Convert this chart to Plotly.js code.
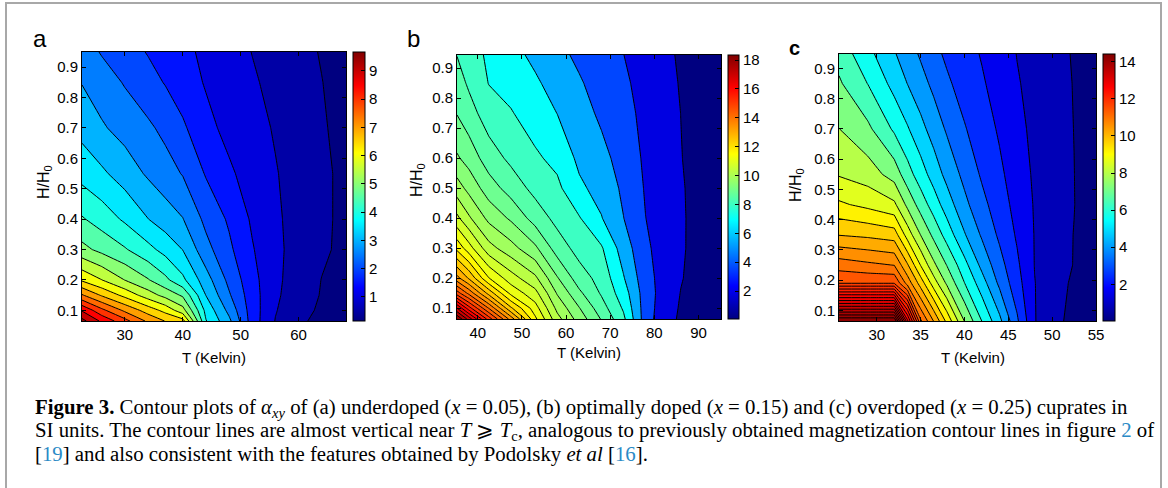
<!DOCTYPE html>
<html><head><meta charset="utf-8">
<script src="https://cdn.plot.ly/plotly-3.0.1.min.js"></script>
<style>html,body{margin:0;padding:0;background:#fff;}#chart{width:1168px;height:488px;}</style>
</head><body><div id="chart"></div>
<script>
// ---------- Panel a : underdoped (x = 0.05) ----------
const T_a = [22.6, 26, 30, 34, 37, 40, 44, 48, 52, 56, 60, 64, 68.2];
const H_a = [0.065, 0.1, 0.15, 0.2, 0.3, 0.4, 0.55, 0.7, 0.85, 0.95];
const Z_a = [
 [9.67, 8.9, 8.17, 7.4, 6.98, 6.7, 4.03, 3.12, 1.76, 0.98, 0.58, 0.38, 0.14],
 [8.95, 8.14, 7.4, 6.78, 6.34, 5.7, 3.86, 2.86, 1.75, 1.03, 0.67, 0.42, 0.25],
 [7.55, 6.94, 6.35, 5.74, 5.33, 4.92, 3.49, 2.56, 1.72, 1.08, 0.74, 0.47, 0.28],
 [6.42, 6.01, 5.49, 5.04, 4.62, 4.11, 3.22, 2.37, 1.67, 1.1, 0.78, 0.49, 0.3],
 [5.15, 4.86, 4.55, 4.15, 3.83, 3.49, 2.67, 2.1, 1.54, 1.11, 0.82, 0.58, 0.38],
 [4.55, 4.28, 3.92, 3.51, 3.25, 3.02, 2.37, 1.93, 1.43, 1.08, 0.82, 0.6, 0.38],
 [3.82, 3.59, 3.27, 2.93, 2.71, 2.47, 1.96, 1.58, 1.29, 1.03, 0.81, 0.6, 0.38],
 [3.34, 3.06, 2.82, 2.59, 2.37, 2.08, 1.64, 1.36, 1.16, 0.96, 0.76, 0.55, 0.35],
 [2.98, 2.75, 2.46, 2.18, 1.97, 1.74, 1.46, 1.26, 1.06, 0.87, 0.69, 0.51, 0.32],
 [2.75, 2.46, 2.21, 1.97, 1.80, 1.62, 1.40, 1.20, 0.99, 0.82, 0.64, 0.47, 0.30]
];
const levels_a = [0.5, 1, 1.5, 2, 2.5, 3, 3.5, 4, 4.5, 5, 5.5, 6, 6.5, 7, 7.5, 8, 8.5, 9, 9.5];
const xticks_a = [30, 40, 50, 60];
const cbticks_a = [1, 2, 3, 4, 5, 6, 7, 8, 9];

// ---------- Panel b : optimally doped (x = 0.15) ----------
const T_b = [35.3, 38, 42.5, 47.5, 53, 58, 63, 68, 73, 78, 82, 86, 90, 95.1];
const H_b = [0.064, 0.1, 0.15, 0.2, 0.3, 0.4, 0.5, 0.6, 0.75, 0.85, 0.944];
const Z_b = [
 [18.35, 17.26, 15.45, 13.66, 11.7, 10.41, 9.6, 8.87, 8.1, 4.46, 2.6, 1.53, 0.88, 0.06],
 [17.02, 15.85, 14.28, 12.58, 11.35, 10.13, 9.37, 8.65, 7.88, 4.5, 2.75, 1.62, 0.97, 0.15],
 [14.97, 14.17, 12.79, 11.48, 10.85, 9.76, 8.99, 8.4, 7.48, 4.5, 2.91, 1.75, 1.09, 0.25],
 [13.56, 12.89, 11.62, 10.91, 10.35, 9.39, 8.66, 8.29, 7.08, 4.28, 2.95, 1.9, 1.2, 0.35],
 [11.92, 11.34, 10.42, 9.97, 9.44, 8.69, 8.28, 8.05, 6.26, 3.93, 2.89, 2.0, 1.29, 0.45],
 [10.81, 10.32, 9.68, 9.28, 8.71, 8.31, 8.03, 7.05, 5.43, 3.62, 2.8, 2.0, 1.31, 0.5],
 [10.01, 9.66, 9.12, 8.71, 8.31, 8.10, 7.19, 6.43, 5.08, 3.45, 2.7, 1.95, 1.32, 0.55],
 [9.41, 9.17, 8.67, 8.35, 8.07, 7.73, 6.65, 5.84, 4.75, 3.29, 2.57, 1.85, 1.3, 0.6],
 [8.88, 8.63, 8.22, 8.03, 7.54, 6.98, 6.0, 5.1, 4.25, 3.08, 2.43, 1.79, 1.25, 0.6],
 [8.65, 8.38, 7.97, 7.67, 7.15, 6.38, 5.56, 4.7, 3.91, 2.96, 2.31, 1.7, 1.22, 0.6],
 [8.44, 8.23, 7.81, 7.32, 6.64, 5.82, 5.05, 4.33, 3.62, 2.8, 2.17, 1.61, 1.17, 0.6]
];
const levels_b = [1.8, 3.6, 5.4, 7.0, 8.0, 8.45, 8.9, 9.35, 9.8, 10.25, 10.7, 11.15, 11.6, 12.05,
                  12.5, 12.95, 13.4, 13.85, 14.3, 14.75, 15.2, 15.65, 16.1, 16.55, 17.0, 17.45, 17.9];
const xticks_b = [40, 50, 60, 70, 80, 90];
const cbticks_b = [2, 4, 6, 8, 10, 12, 14, 16, 18];

// ---------- Panel c : overdoped (x = 0.25) ----------
const T_c = [25.7, 29, 32, 33.5, 35, 36.5, 38, 40, 42, 44, 46, 48, 50, 52.5, 55];
const H_c = [0.065, 0.19, 0.25, 0.35, 0.45, 0.55, 0.7, 0.85, 0.948];
const Z_c = [
 [14.42, 14.42, 14.42, 12.85, 11.47, 10.58, 9.56, 7.98, 6.38, 5.01, 3.33, 1.64, 1.1, 0.53, 0.02],
 [11.79, 11.79, 11.79, 10.85, 9.99, 8.9, 7.87, 6.42, 5.16, 3.83, 2.71, 1.62, 1.19, 0.66, 0.05],
 [11.22, 11.09, 10.99, 10.25, 9.18, 8.13, 7.17, 5.87, 4.57, 3.5, 2.54, 1.58, 1.22, 0.77, 0.1],
 [10.18, 10.09, 9.96, 8.94, 7.99, 6.99, 6.07, 4.87, 3.89, 3.05, 2.3, 1.57, 1.22, 0.78, 0.15],
 [9.28, 9.04, 8.72, 7.81, 6.85, 6.02, 5.2, 4.21, 3.43, 2.77, 2.13, 1.54, 1.22, 0.82, 0.2],
 [8.55, 8.31, 7.66, 6.74, 5.98, 5.25, 4.56, 3.78, 3.09, 2.56, 1.99, 1.49, 1.19, 0.81, 0.25],
 [8.01, 7.37, 6.27, 5.68, 5.05, 4.46, 3.9, 3.26, 2.78, 2.3, 1.8, 1.43, 1.15, 0.79, 0.3],
 [7.31, 6.38, 5.33, 4.79, 4.3, 3.81, 3.33, 2.88, 2.49, 2.08, 1.66, 1.37, 1.1, 0.77, 0.35],
 [6.9, 5.84, 4.87, 4.38, 3.9, 3.42, 3.06, 2.7, 2.34, 1.97, 1.58, 1.33, 1.07, 0.74, 0.4]
];
const levels_c = [0.8, 1.6, 2.4, 3.2, 4.0, 4.8, 5.6, 6.4, 7.2, 8.0, 8.6, 9.2, 9.7, 10.2, 10.6, 11.0,
                  11.4, 11.8, 12.0, 12.2, 12.4, 12.6, 12.8, 13.0, 13.2, 13.4, 13.6, 13.8, 14.0, 14.2];
const xticks_c = [30, 35, 40, 45, 50, 55];
const cbticks_c = [2, 4, 6, 8, 10, 12, 14];

const yticks = [0.1, 0.2, 0.3, 0.4, 0.5, 0.6, 0.7, 0.8, 0.9];

// ---------- helpers ----------
const W = 1168, Hh = 488;
const px = v => v / W;
const py = v => 1 - v / Hh;
function jet(t) {
  t = Math.max(0, Math.min(1, t));
  const c = x => Math.round(255 * Math.max(0, Math.min(1, x)));
  return 'rgb(' + c(1.5 - Math.abs(4 * t - 3)) + ',' + c(1.5 - Math.abs(4 * t - 2)) + ',' + c(1.5 - Math.abs(4 * t - 1)) + ')';
}
const JET = [0, 0.125, 0.375, 0.625, 0.875, 1].map(t => [t, jet(t)]);
// map a value onto the (non-uniform) level index so that the library draws the given levels
function toIndex(z, L) {
  const n = L.length;
  if (z <= L[0]) return 1 - (L[0] - z) / (L[1] - L[0]);
  if (z >= L[n - 1]) return n + (z - L[n - 1]) / (L[n - 1] - L[n - 2]);
  for (let k = 0; k < n - 1; k++) if (z < L[k + 1]) return k + 1 + (z - L[k]) / (L[k + 1] - L[k]);
}
const FONT = 'Liberation Sans, Arial, Helvetica, sans-serif';
const TICK = 15;

function panel(T, H, Z, L, ax, cbBox, cbTicks) {
  const flat = Z.flat();
  const zmin = Math.min(...flat), zmax = Math.max(...flat);
  const n = L.length;
  const cs = [[0, jet(0)]];
  L.forEach((l, k) => cs.push([(k + 1) / n, jet((l - zmin) / (zmax - zmin))]));
  const contour = {
    type: 'contour', x: T, y: H, z: Z.map(r => r.map(v => toIndex(v, L))),
    xaxis: 'x' + ax, yaxis: 'y' + ax, autocontour: false,
    contours: {start: 1, end: n, size: 1, coloring: 'fill', showlines: true},
    colorscale: cs, showscale: false,
    line: {color: '#000', width: 1, smoothing: 0}, hoverinfo: 'skip'
  };
  const bar = {
    type: 'scatter', mode: 'markers', x: [T[0]], y: [H[0]], xaxis: 'x' + ax, yaxis: 'y' + ax,
    hoverinfo: 'skip',
    marker: {size: 1, opacity: 0, color: [zmin, zmax], cmin: zmin, cmax: zmax, colorscale: JET, showscale: true,
      colorbar: {x: px(cbBox[0]), xanchor: 'left', y: py(cbBox[3]), yanchor: 'bottom',
        len: (cbBox[3] - cbBox[1]) / Hh, lenmode: 'fraction', thickness: cbBox[2] - cbBox[0], thicknessmode: 'pixels',
        xpad: 0, ypad: 0, outlinewidth: 1, outlinecolor: '#000', borderwidth: 0,
        ticks: 'inside', ticklen: 4, tickcolor: '#000', tickvals: cbTicks,
        tickfont: {family: FONT, size: TICK, color: '#000'}}}
  };
  return [contour, bar];
}

function axX(dom, range, ticks, anchor) {
  return {domain: [px(dom[0]), px(dom[1])], range: range, anchor: anchor, tickvals: ticks,
    ticks: 'inside', ticklen: 4, tickcolor: '#000', mirror: 'ticks', showline: true, linecolor: '#000', linewidth: 1,
    showgrid: false, zeroline: false, tickfont: {family: FONT, size: TICK, color: '#000'}};
}
function axY(dom, range, anchor) {
  return {domain: [py(dom[1]), py(dom[0])], range: range, anchor: anchor, tickvals: yticks, tickformat: '.1f',
    ticks: 'inside', ticklen: 4, tickcolor: '#000', mirror: 'ticks', showline: true, linecolor: '#000', linewidth: 1,
    showgrid: false, zeroline: false, tickfont: {family: FONT, size: TICK, color: '#000'}};
}

const data = [].concat(
  panel(T_a, H_a, Z_a, levels_a, '', [353, 52, 365, 321], cbticks_a),
  panel(T_b, H_b, Z_b, levels_b, '2', [728, 55, 739, 319], cbticks_b),
  panel(T_c, H_c, Z_c, levels_c, '3', [1103, 54, 1115, 321], cbticks_c)
);

const ann = [];
function txt(text, x, y, size, opts) {
  ann.push(Object.assign({text: text, x: px(x), y: py(y), xref: 'paper', yref: 'paper', showarrow: false,
    xanchor: 'center', yanchor: 'middle', font: {family: FONT, size: size, color: '#000'}}, opts || {}));
}
txt('a', 40, 38.5, 24);
txt('b', 413, 38.5, 24);
txt('<b>c</b>', 794, 48, 20);
txt('T (Kelvin)', 214, 357, 15);
txt('T (Kelvin)', 589, 352, 15);
txt('T (Kelvin)', 973, 357, 15);
txt('H/H<sub>0</sub>', 44, 182, 16, {textangle: -90});
txt('H/H<sub>0</sub>', 417, 180, 16, {textangle: -90});
txt('H/H<sub>0</sub>', 797, 185, 16, {textangle: -90});

const SERIF = 'Liberation Serif, Times New Roman, serif';
const CAP = 20.8;
const link = s => '<span style="color:#2b8ac6">' + s + '</span>';
const captionLines = [
  '<b>Figure 3.</b> Contour plots of <i>α</i><sub><i>xy</i></sub> of (a) underdoped (<i>x</i> = 0.05), (b) optimally doped (<i>x</i> = 0.15) and (c) overdoped (<i>x</i> = 0.25) cuprates in',
  'SI units. The contour lines are almost vertical near <i>T</i> ⩾ <i>T</i><sub>c</sub>, analogous to previously obtained magnetization contour lines in figure ' + link('2') + ' of',
  '[' + link('19') + '] and also consistent with the features obtained by Podolsky <i>et al</i> [' + link('16') + '].'
];
captionLines.forEach((s, i) => txt(s, 33, 408 + 23 * i, CAP, {xanchor: 'left', font: {family: SERIF, size: CAP, color: '#000'}}));

const frame = {type: 'path', xref: 'paper', yref: 'paper',
  path: 'M ' + px(6) + ' 0 L ' + px(6) + ' ' + py(3) + ' L ' + px(1161) + ' ' + py(3) + ' L ' + px(1161) + ' 0',
  line: {color: '#a8a8a8', width: 2}};

const layout = {
  width: W, height: Hh, margin: {l: 0, r: 0, t: 0, b: 0}, paper_bgcolor: '#fff', plot_bgcolor: '#fff',
  showlegend: false,
  xaxis: axX([82, 346], [22.6, 68.2], xticks_a, 'y'),
  yaxis: axY([52, 321], [0.065, 0.95], 'x'),
  xaxis2: axX([457, 721], [35.3, 95.1], xticks_b, 'y2'),
  yaxis2: axY([55, 319], [0.064, 0.944], 'x2'),
  xaxis3: axX([839, 1096], [25.7, 55], xticks_c, 'y3'),
  yaxis3: axY([54, 321], [0.065, 0.948], 'x3'),
  annotations: ann,
  shapes: [frame]
};
Plotly.newPlot('chart', data, layout, {staticPlot: true});
</script></body></html>
